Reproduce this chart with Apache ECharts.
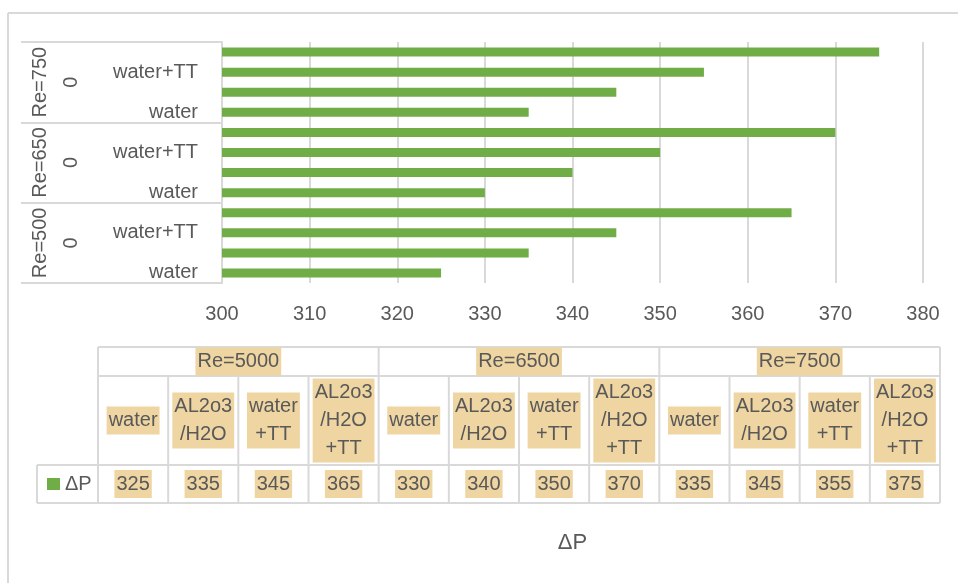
<!DOCTYPE html>
<html>
<head>
<meta charset="utf-8">
<script src="https://cdn.jsdelivr.net/npm/echarts@6/dist/echarts.min.js"></script>
<style>
  html, body { margin: 0; padding: 0; background: #ffffff; }
  #chart { width: 958px; height: 583px; }
</style>
</head>
<body>
<div id="chart"></div>
<script>
// ---- data ----
const groups = ['Re=5000', 'Re=6500', 'Re=7500'];
const groupTickLabels = ['Re=500', 'Re=650', 'Re=750'];
const subTickLabels = ['0', '0', '0'];
const conditions = ['water', 'AL2o3/H2O', 'water+TT', 'AL2o3/H2O+TT'];
const dpRe5000 = [325, 335, 345, 365];
const dpRe6500 = [330, 340, 350, 370];
const dpRe7500 = [335, 345, 355, 375];
const seriesName = 'ΔP';
const valueMin = 300;
const valueMax = 380;
const valueStep = 10;

// ---- styling ----
const FONT = "'Liberation Sans', Arial, sans-serif";
const TXT = '#595959';
const LINE = '#D9D9D9';
const BAR = '#70AD47';
const PAPYRUS = '#EED5A2';

const groupValues = [dpRe5000, dpRe6500, dpRe7500];
const categoryKeys = [];
const barValues = [];
groups.forEach((g, gi) => {
  conditions.forEach((c, ci) => {
    categoryKeys.push(g + '|' + c);
    barValues.push(groupValues[gi][ci]);
  });
});

// ---- data table under the plot ----
const tableLeft = 98, tableRight = 940, legendLeft = 37;
const rowY = [347, 376, 465, 503];
const nCols = groups.length * conditions.length;
const colW = (tableRight - tableLeft) / nCols;
const tableEls = [];
function hLine(x1, x2, y) {
  tableEls.push({ type: 'line', shape: { x1: x1, y1: y, x2: x2, y2: y }, style: { stroke: LINE, lineWidth: 2 }, z: 5 });
}
function vLine(x, y1, y2) {
  tableEls.push({ type: 'line', shape: { x1: x, y1: y1, x2: x, y2: y2 }, style: { stroke: LINE, lineWidth: 2 }, z: 5 });
}
function cellText(text, cx, cy) {
  tableEls.push({
    type: 'text', x: cx, y: cy, z: 10,
    style: {
      text: text, fill: TXT, font: '20px ' + FONT,
      align: 'center', verticalAlign: 'middle', lineHeight: 28,
      backgroundColor: PAPYRUS, padding: [0, 2]
    }
  });
}
hLine(tableLeft, tableRight, rowY[0]);
hLine(tableLeft, tableRight, rowY[1]);
hLine(legendLeft, tableRight, rowY[2]);
hLine(legendLeft, tableRight, rowY[3]);
vLine(legendLeft, rowY[2], rowY[3]);
for (let k = 0; k <= nCols; k++) {
  const x = tableLeft + k * colW;
  const top = (k % conditions.length === 0) ? rowY[0] : rowY[1];
  vLine(x, top, rowY[3]);
}
groups.forEach((g, gi) => {
  const gx = tableLeft + (gi + 0.5) * conditions.length * colW;
  cellText(g, gx, (rowY[0] + rowY[1]) / 2);
  conditions.forEach((c, ci) => {
    const k = gi * conditions.length + ci;
    const cx = tableLeft + (k + 0.5) * colW;
    cellText(c.replace(/([\/+])/g, '\n$1'), cx, (rowY[1] + rowY[2]) / 2);
    cellText(String(groupValues[gi][ci]), cx, (rowY[2] + rowY[3]) / 2);
  });
});

// chart frame
const frameEls = [
  { type: 'line', shape: { x1: 8, y1: 13, x2: 958, y2: 13 }, style: { stroke: LINE, lineWidth: 2 } },
  { type: 'line', shape: { x1: 8, y1: 13, x2: 8, y2: 583 }, style: { stroke: LINE, lineWidth: 2 } }
];

const chart = echarts.init(document.getElementById('chart'), null, { renderer: 'canvas' });
chart.setOption({
  animation: false,
  backgroundColor: '#ffffff',
  textStyle: { fontFamily: FONT },
  grid: { left: 222, right: 35, top: 42, bottom: 300, containLabel: false, outerBoundsMode: 'none' },
  legend: {
    data: [seriesName],
    left: 47, top: 474,
    padding: 0,
    icon: 'rect',
    itemWidth: 13, itemHeight: 12, itemGap: 5,
    textStyle: { fontSize: 20, color: TXT, fontFamily: FONT }
  },
  xAxis: {
    type: 'value',
    min: valueMin, max: valueMax, interval: valueStep,
    axisLine: { show: false },
    axisTick: { show: false },
    axisLabel: { color: TXT, fontSize: 20, margin: 21, fontFamily: FONT },
    splitLine: { show: true, lineStyle: { color: LINE, width: 2 } },
    name: seriesName,
    nameLocation: 'middle',
    nameGap: 249,
    nameTextStyle: { color: TXT, fontSize: 22, fontFamily: FONT }
  },
  yAxis: [
    {
      type: 'category',
      data: categoryKeys,
      position: 'left',
      axisLine: { show: true, lineStyle: { color: LINE, width: 2 } },
      axisTick: { show: false },
      axisLabel: {
        interval: 1, color: TXT, fontSize: 20, margin: 24, fontFamily: FONT,
        formatter: v => v.split('|')[1]
      }
    },
    {
      type: 'category',
      data: groupTickLabels,
      position: 'left',
      axisLine: { show: false },
      axisTick: { show: true, length: 201, lineStyle: { color: LINE, width: 2 } },
      axisLabel: { interval: 0, rotate: 90, color: TXT, fontSize: 20, margin: 172, fontFamily: FONT }
    },
    {
      type: 'category',
      data: subTickLabels,
      position: 'left',
      axisLine: { show: false },
      axisTick: { show: false },
      axisLabel: { interval: 0, rotate: 90, color: TXT, fontSize: 20, margin: 141, fontFamily: FONT }
    }
  ],
  series: [{
    name: seriesName,
    type: 'bar',
    yAxisIndex: 0,
    data: barValues,
    barWidth: 9,
    itemStyle: { color: BAR }
  }],
  graphic: { elements: frameEls.concat(tableEls) }
});
</script>
</body>
</html>
